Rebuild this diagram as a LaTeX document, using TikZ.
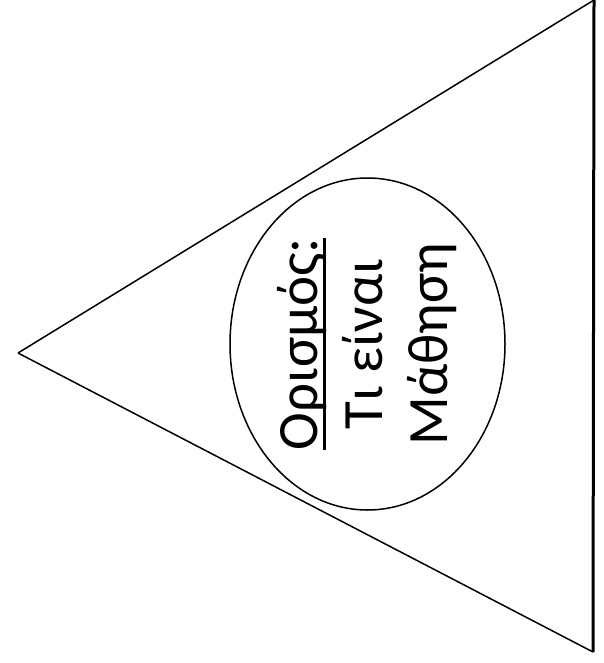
\documentclass[tikz,border=0pt]{standalone}
\usepackage{fontspec}
\setmainfont{Carlito}
\usetikzlibrary{shapes.geometric}

\newsavebox{\ulbox}
\newcommand{\ulword}[1]{\sbox\ulbox{#1}\rlap{\rule[-8.5pt]{\wd\ulbox}{3pt}}\usebox\ulbox}

\begin{document}
\begin{tikzpicture}[
    x=1pt, y=-1pt,
    edge/.style={draw=black, line width=1.5pt},
    defn/.style={
        draw=black,
        ellipse,
        line width=1.5pt,
        minimum width=332pt,
        minimum height=275pt,
        inner sep=0pt,
        rotate=90,
        align=center,
        font=\fontsize{57}{65}\selectfont
    }
]
\useasboundingbox (0,0) rectangle (604,663);

% pennant outline
\coordinate (apex) at (18,353);
\coordinate (top) at (594,0);
\coordinate (bottom) at (593,652);

\draw[edge] (apex) -- (top);
\draw[edge] (apex) -- (bottom);
\draw[line width=3pt] (top) -- (bottom);

% centre label
\node[defn] (definition) at (367.5,344) {\ulword{Ορισμός:}\\Τι είναι\\Μάθηση};
\end{tikzpicture}
\end{document}
